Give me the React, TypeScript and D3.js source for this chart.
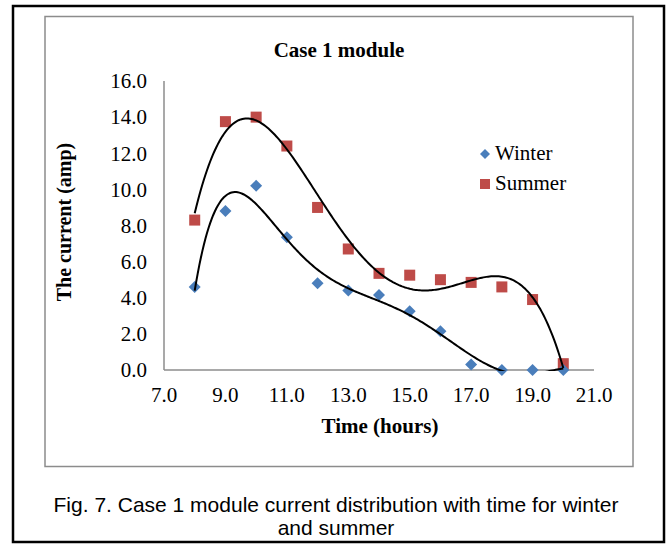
import React from "react";
import * as d3 from "d3";

// Hourly module current (amp)
const hours = [8, 9, 10, 11, 12, 13, 14, 15, 16, 17, 18, 19, 20];
const winter = [4.6, 8.8, 10.2, 7.35, 4.8, 4.4, 4.15, 3.25, 2.15, 0.3, 0.0, 0.0, 0.0];
const summer = [8.3, 13.75, 14.0, 12.4, 9.0, 6.7, 5.35, 5.25, 5.0, 4.85, 4.6, 3.9, 0.35];

// Polynomial trend line orders
const winterOrder = 6;
const summerOrder = 4;

const xTicks = [7, 9, 11, 13, 15, 17, 19, 21];
const yTicks = [0, 2, 4, 6, 8, 10, 12, 14, 16];

const W = 670;
const H = 546;

// Least-squares polynomial trend line (x normalised for stability)
function polyFit(xs: number[], ys: number[], degree: number) {
  const c = d3.mean(xs)!;
  const s = (d3.max(xs)! - d3.min(xs)!) / 2;
  const n = degree + 1;
  const A: number[][] = Array.from({ length: n }, () => new Array(n + 1).fill(0));
  xs.forEach((xv, k) => {
    const t = (xv - c) / s;
    for (let i = 0; i < n; i++) {
      for (let j = 0; j < n; j++) A[i][j] += Math.pow(t, i + j);
      A[i][n] += Math.pow(t, i) * ys[k];
    }
  });
  for (let i = 0; i < n; i++) {
    let p = i;
    for (let r = i + 1; r < n; r++) if (Math.abs(A[r][i]) > Math.abs(A[p][i])) p = r;
    [A[i], A[p]] = [A[p], A[i]];
    for (let r = 0; r < n; r++) {
      if (r === i) continue;
      const f = A[r][i] / A[i][i];
      for (let q = i; q <= n; q++) A[r][q] -= f * A[i][q];
    }
  }
  const coef = A.map((row, i) => row[n] / row[i]);
  return (xv: number) => {
    const t = (xv - c) / s;
    return coef.reduce((acc, a, i) => acc + a * Math.pow(t, i), 0);
  };
}

export default function App() {
  const x = d3.scaleLinear().domain([7, 21]).range([164, 594]);
  const y = d3.scaleLinear().domain([0, 16]).range([370, 81]);

  const wFit = polyFit(hours, winter, winterOrder);
  const sFit = polyFit(hours, summer, summerOrder);

  const line = d3
    .line<[number, number]>()
    .x((d) => x(d[0]))
    .y((d) => y(d[1]));

  const span = d3.range(8, 20.001, 0.05);
  const wPts: [number, number][] = span.map((h) => [h, wFit(h)]);
  const sPts: [number, number][] = span.map((h) => [h, sFit(h)]);

  const serif = "'Liberation Serif', 'Times New Roman', serif";
  const sans = "'Liberation Sans', Arial, sans-serif";
  const blue = "#4a7ebb";
  const red = "#be4b48";

  const diamond = (cx: number, cy: number, r: number) =>
    `M${cx},${cy - r}L${cx + r},${cy}L${cx},${cy + r}L${cx - r},${cy}Z`;

  return (
    <svg
      width={W}
      height={H}
      style={{ position: "absolute", left: 0, top: 0, background: "#fff" }}
    >
      <defs>
        <clipPath id="plot-area">
          <rect x={x(7)} y={y(16) - 10} width={x(21) - x(7)} height={y(0) - y(16) + 11} />
        </clipPath>
      </defs>

      <rect x={13} y={6} width={651} height={536} fill="#fff" stroke="#000" strokeWidth={2.5} />
      <rect x={45} y={16.5} width={588} height={450} fill="#fff" stroke="#8c8c8c" strokeWidth={1.5} />

      <text x={339} y={57} textAnchor="middle" fontFamily={serif} fontWeight="bold" fontSize={21}>
        Case 1 module
      </text>

      {/* axes */}
      <line x1={x(7)} x2={x(7)} y1={y(16)} y2={y(0)} stroke="#8c8c8c" strokeWidth={1.5} />
      <line x1={x(7)} x2={x(21)} y1={y(0)} y2={y(0)} stroke="#8c8c8c" strokeWidth={1.5} />

      {yTicks.map((t) => (
        <text
          key={"y" + t}
          x={147}
          y={y(t)}
          dy="0.35em"
          textAnchor="end"
          fontFamily={serif}
          fontSize={21}
        >
          {t.toFixed(1)}
        </text>
      ))}
      {xTicks.map((t) => (
        <text
          key={"x" + t}
          x={x(t)}
          y={402}
          textAnchor="middle"
          fontFamily={serif}
          fontSize={21}
        >
          {t.toFixed(1)}
        </text>
      ))}

      <text x={380} y={433} textAnchor="middle" fontFamily={serif} fontWeight="bold" fontSize={21}>
        Time (hours)
      </text>
      <text
        transform={`translate(71,222) rotate(-90)`}
        textAnchor="middle"
        fontFamily={serif}
        fontWeight="bold"
        fontSize={20}
      >
        The current (amp)
      </text>

      {/* markers */}
      {hours.map((h, i) => (
        <rect
          key={"s" + h}
          x={x(h) - 5.5}
          y={y(summer[i]) - 5.5}
          width={11}
          height={11}
          fill={red}
        />
      ))}
      {hours.map((h, i) => (
        <path key={"w" + h} d={diamond(x(h), y(winter[i]), 6)} fill={blue} />
      ))}

      {/* trend lines */}
      <g clipPath="url(#plot-area)">
        <path d={line(sPts) || ""} fill="none" stroke="#000" strokeWidth={2} />
        <path d={line(wPts) || ""} fill="none" stroke="#000" strokeWidth={2} />
      </g>

      {/* legend */}
      <path d={diamond(485, 154, 5)} fill={blue} />
      <text x={495} y={160} fontFamily={serif} fontSize={21}>
        Winter
      </text>
      <rect x={480} y={179} width={10} height={10} fill={red} />
      <text x={495} y={190} fontFamily={serif} fontSize={21}>
        Summer
      </text>

      {/* caption */}
      <text x={336} y={512} textAnchor="middle" fontFamily={sans} fontSize={21}>
        Fig. 7. Case 1 module current distribution with time for winter
      </text>
      <text x={336} y={535} textAnchor="middle" fontFamily={sans} fontSize={21}>
        and summer
      </text>
    </svg>
  );
}
